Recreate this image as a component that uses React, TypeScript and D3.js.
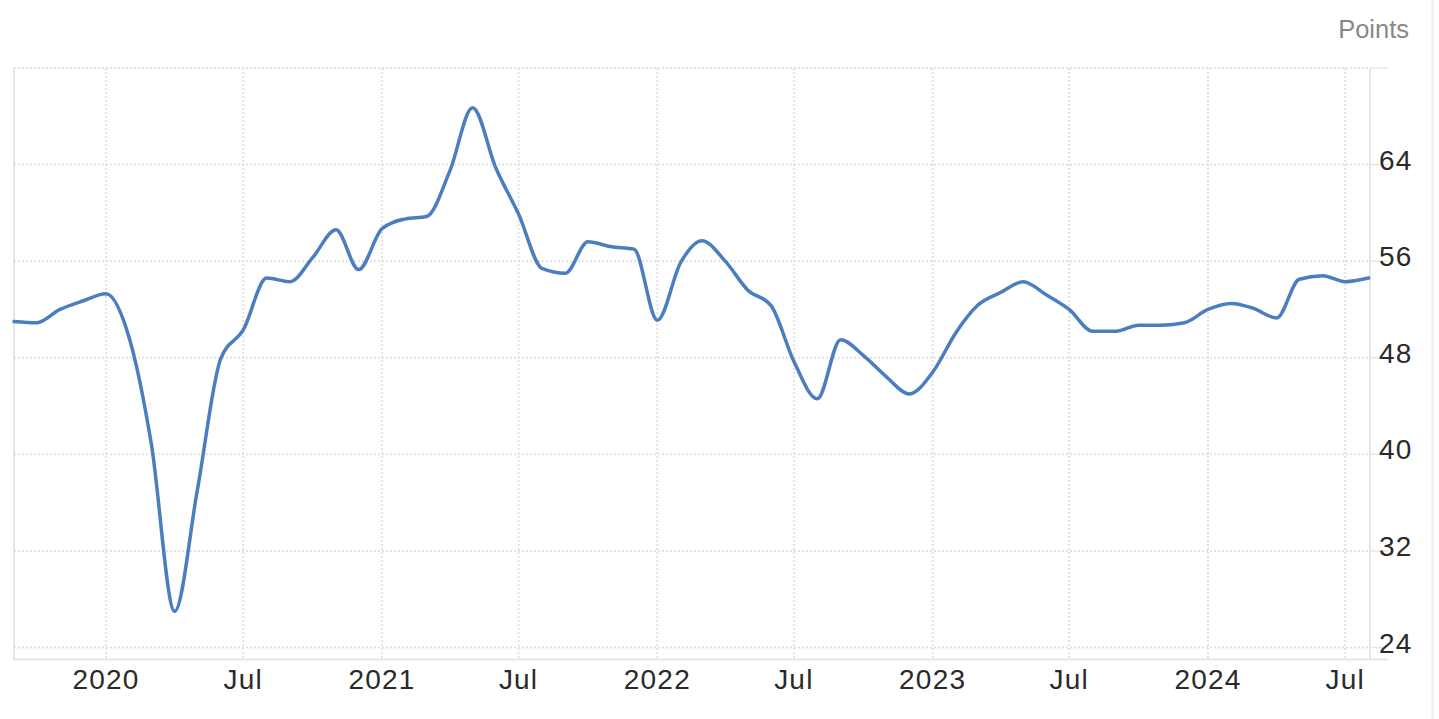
import React from 'react';
import * as d3 from 'd3';

// Composite PMI, monthly, Sep 2019 - Aug 2024
const months: string[] = [
  '2019-09', '2019-10', '2019-11', '2019-12',
  '2020-01', '2020-02', '2020-03', '2020-04', '2020-05', '2020-06',
  '2020-07', '2020-08', '2020-09', '2020-10', '2020-11', '2020-12',
  '2021-01', '2021-02', '2021-03', '2021-04', '2021-05', '2021-06',
  '2021-07', '2021-08', '2021-09', '2021-10', '2021-11', '2021-12',
  '2022-01', '2022-02', '2022-03', '2022-04', '2022-05', '2022-06',
  '2022-07', '2022-08', '2022-09', '2022-10', '2022-11', '2022-12',
  '2023-01', '2023-02', '2023-03', '2023-04', '2023-05', '2023-06',
  '2023-07', '2023-08', '2023-09', '2023-10', '2023-11', '2023-12',
  '2024-01', '2024-02', '2024-03', '2024-04', '2024-05', '2024-06',
  '2024-07', '2024-08'
];

const values: number[] = [
  51.0, 50.9, 52.0, 52.7,
  53.3, 49.6, 40.9, 27.0, 37.0, 47.9,
  50.3, 54.6, 54.3, 56.3, 58.6, 55.3,
  58.7, 59.5, 59.7, 63.5, 68.7, 63.7,
  59.9, 55.4, 55.0, 57.6, 57.2, 57.0,
  51.1, 55.9, 57.7, 56.0, 53.6, 52.3,
  47.7, 44.6, 49.5, 48.2, 46.4, 45.0,
  46.8, 50.1, 52.3, 53.4, 54.3, 53.2,
  52.0, 50.2, 50.2, 50.7, 50.7, 50.9,
  52.0, 52.5, 52.1, 51.3, 54.5, 54.8,
  54.3, 54.6
];

const yTicks: number[] = [24, 32, 40, 48, 56, 64];
const yGrid: number[] = [24, 32, 40, 48, 56, 64, 72];
const unitLabel = 'Points';

const W = 1439;
const H = 719;
const FONT = '"Liberation Sans", Arial, Helvetica, sans-serif';

export default function App() {
  const parse = d3.timeParse('%Y-%m');
  const data = months.map((m, i) => ({ date: parse(m) as Date, value: values[i] }));

  const x = d3.scaleTime()
    .domain([new Date(2019, 8, 1), new Date(2024, 7, 1)])
    .range([14, 1368.6]);
  const y = d3.scaleLinear().domain([24, 72]).range([647.5, 68]);

  const plotLeft = 14;
  const axisX = 1370;
  const axisY = 659.5;
  const top = y(72);

  const xTicks = x.ticks(d3.timeMonth.every(6) as d3.TimeInterval);
  const fmtX = (d: Date) => (d.getMonth() === 0 ? d3.timeFormat('%Y')(d) : d3.timeFormat('%b')(d));

  const line = d3.line<{ date: Date; value: number }>()
    .x(d => x(d.date))
    .y(d => y(d.value))
    .curve(d3.curveMonotoneX);

  return (
    <svg width={W} height={H} style={{ position: 'absolute', left: 0, top: 0, background: '#fff' }}>
      {/* page edge */}
      <line x1={1432.5} x2={1432.5} y1={0} y2={H} stroke="#f0f0f0" strokeWidth={2} />

      {/* horizontal grid */}
      {yGrid.map(v => (
        <line key={'gy' + v} x1={plotLeft} x2={axisX} y1={y(v)} y2={y(v)}
          stroke="#e2e2e2" strokeWidth={2} strokeDasharray="2,2" />
      ))}
      {/* vertical grid */}
      {xTicks.map(d => (
        <line key={'gx' + d.getTime()} x1={x(d)} x2={x(d)} y1={top} y2={axisY}
          stroke="#e2e2e2" strokeWidth={2} strokeDasharray="2,2" />
      ))}

      {/* frame */}
      <line x1={plotLeft} x2={plotLeft} y1={top} y2={axisY + 1} stroke="#e6e6e6" strokeWidth={2} />
      <line x1={axisX} x2={axisX} y1={top} y2={axisY + 1} stroke="#e6e6e6" strokeWidth={2} />
      <line x1={plotLeft} x2={1388} y1={axisY} y2={axisY} stroke="#e6e6e6" strokeWidth={2} />
      {yGrid.map(v => (
        <line key={'tk' + v} x1={axisX} x2={1388} y1={y(v)} y2={y(v)} stroke="#e6e6e6" strokeWidth={1.5} />
      ))}

      {/* series */}
      <path d={line(data) || ''} fill="none" stroke="#4a7ebf" strokeWidth={3.5}
        strokeLinejoin="round" strokeLinecap="round" />

      {/* y labels */}
      {yTicks.map(v => (
        <text key={'yl' + v} x={1379} y={y(v) + 5} fontFamily={FONT} fontSize={28}
          letterSpacing={1.2} fill="#2a2a2a">{v}</text>
      ))}

      {/* x labels */}
      {xTicks.map(d => (
        <text key={'xl' + d.getTime()} x={x(d)} y={688.5} textAnchor="middle" fontFamily={FONT}
          fontSize={28} letterSpacing={1.2} fill="#2a2a2a">{fmtX(d)}</text>
      ))}

      <text x={1409} y={37.5} textAnchor="end" fontFamily={FONT} fontSize={25.5} fill="#888">{unitLabel}</text>
    </svg>
  );
}
